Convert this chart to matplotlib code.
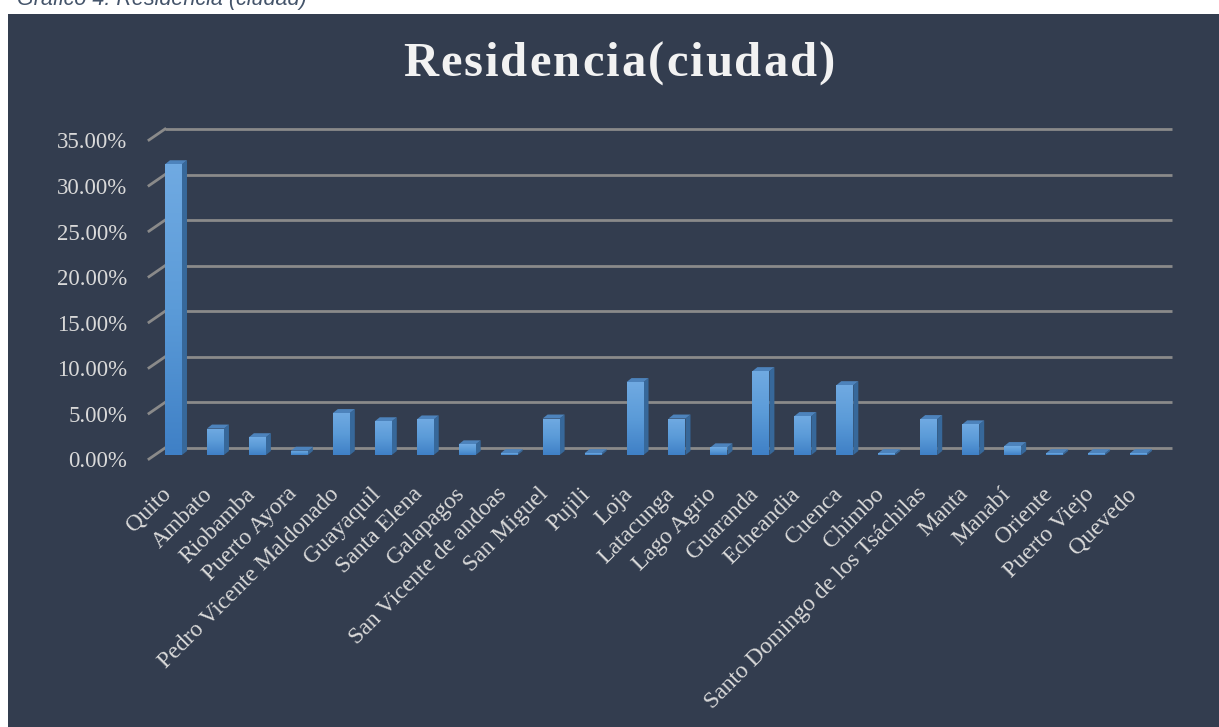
import matplotlib
matplotlib.use("Agg")
import matplotlib.pyplot as plt
import numpy as np
from matplotlib.patches import Polygon, Rectangle
from matplotlib.colors import LinearSegmentedColormap

cities = ["Quito", "Ambato", "Riobamba", "Puerto Ayora", "Pedro Vicente Maldonado",
          "Guayaquil", "Santa Elena", "Galapagos", "San Vicente de andoas", "San Miguel",
          "Pujili", "Loja", "Latacunga", "Lago Agrio", "Guaranda", "Echeandia", "Cuenca",
          "Chimbo", "Santo Domingo de los Tsáchilas", "Manta", "Manabí", "Oriente",
          "Puerto Viejo", "Quevedo"]
values = [31.9, 2.9, 1.95, 0.47, 4.6, 3.7, 3.9, 1.17, 0.2, 4.0, 0.2, 8.0, 4.0, 0.84,
          9.2, 4.27, 7.66, 0.2, 3.94, 3.36, 0.98, 0.2, 0.2, 0.2]
yticks = [0, 5, 10, 15, 20, 25, 30, 35]
ytick_labels = ["0.00%", "5.00%", "10.00%", "15.00%", "20.00%", "25.00%", "30.00%", "35.00%"]
title = "Residencia(ciudad)"
caption = "Gráfico 4. Residencia (ciudad)"

W, H = 1219, 727
BG = "#333D4F"
GRID = "#8A8A8A"
TXT = "#D9D9D9"
SERIF = ["Liberation Serif", "DejaVu Serif"]

fig = plt.figure(figsize=(W / 100, H / 100), dpi=100)
fig.patch.set_facecolor("white")
fig.add_artist(Rectangle((8 / W, 0), (W - 8) / W, (H - 14) / H, transform=fig.transFigure,
                         facecolor=BG, edgecolor="none", zorder=0))

# back plane geometry (pixels)
bx0, bx1 = 165.0, 1172.0   # x = -0.5 .. n-0.5
by0, by35 = 448.0, 129.0   # y = 0 .. 35
n = len(cities)
pxx = (bx1 - bx0) / n       # px per x unit
pxy = (by0 - by35) / 35.0   # px per y unit

# axes box (pixels)
aL, aR, aT, aB = 120.0, 1200.0, 110.0, 475.0
ax = fig.add_axes([aL / W, 1 - aB / H, (aR - aL) / W, (aB - aT) / H])
ax.axis("off")
XL = (-0.5 - (bx0 - aL) / pxx, -0.5 + (aR - bx0) / pxx)
YL = (-(aB - by0) / pxy, (by0 - aT) / pxy)

dx = 1.0 / pxx   # data per px (x)
dy = 1.0 / pxy   # data per px (y)

# gridlines + diagonal side-wall lines
for yv, lab in zip(yticks, ytick_labels):
    ax.plot([-0.5, n - 0.5], [yv, yv], color=GRID, lw=2.0, zorder=1, solid_capstyle="butt")
    ax.plot([-0.5 - 16 * dx, -0.5], [yv - 11 * dy, yv], color=GRID, lw=2.0, zorder=1)
    ax.text(-0.5 - 16 * dx - 22 * dx, yv - 14 * dy, lab, ha="right", va="center",
            fontsize=16.5, color=TXT, family=SERIF)

# bars (3D look)
cmap = LinearSegmentedColormap.from_list("g", ["#3F80C6", "#5B9BD8", "#70AAE2"])
grad = np.linspace(0, 1, 256).reshape(-1, 1)
ox, oy = -12.5 * dx, -7 * dy
w = 17 * dx
ddx, ddy = 5 * dx, 4 * dy
for i, v in enumerate(values):
    x0 = i + ox - w / 2
    side = Polygon([(x0 + w, oy), (x0 + w, oy + v), (x0 + w + ddx, oy + v + ddy),
                    (x0 + w + ddx, oy + ddy)], closed=True, facecolor="#37689A",
                   edgecolor="none", zorder=3)
    ax.add_patch(side)
    top = Polygon([(x0, oy + v), (x0 + w, oy + v), (x0 + w + ddx, oy + v + ddy),
                   (x0 + ddx, oy + v + ddy)], closed=True, facecolor="#4D83BC",
                  edgecolor="none", zorder=3)
    ax.add_patch(top)
    front = Rectangle((x0, oy), w, v, facecolor="#5B9BD8", edgecolor="none", zorder=4)
    ax.add_patch(front)
    im = ax.imshow(grad, extent=[x0, x0 + w, oy, oy + v], origin="lower", cmap=cmap,
                   aspect="auto", zorder=4.5, interpolation="bilinear")
    im.set_clip_path(front)
    # category label
    ax.text(i + ox - 5.5 * dx, -43 * dy, cities[i], rotation=45, rotation_mode="anchor",
            ha="right", va="center", fontsize=17, color=TXT, family=SERIF, clip_on=False)

ax.set_xlim(*XL)
ax.set_ylim(*YL)

# title with letter spacing
renderer = fig.canvas.get_renderer()
tsize = 35
target_w = 432.0
chars = list(title)
widths = []
for c in chars:
    t = fig.text(0, 0, c, fontsize=tsize, fontweight="bold", family=SERIF)
    widths.append(t.get_window_extent(renderer).width)
    t.remove()
extra = (target_w - sum(widths)) / (len(chars) - 1)
xc = 619.0 - target_w / 2
for c, cw in zip(chars, widths):
    fig.text(xc / W, 1 - 64 / H, c, ha="left", va="center", fontsize=tsize,
             fontweight="bold", color="#F2F2F2", family=SERIF)
    xc += cw + extra

fig.text(17 / W, 1 - 5 / H, caption, ha="left", va="baseline", fontsize=15.5,
         style="italic", color="#44546A", family=["Liberation Sans", "DejaVu Sans"])

fig.savefig("out.png", dpi=100, facecolor=fig.get_facecolor())
